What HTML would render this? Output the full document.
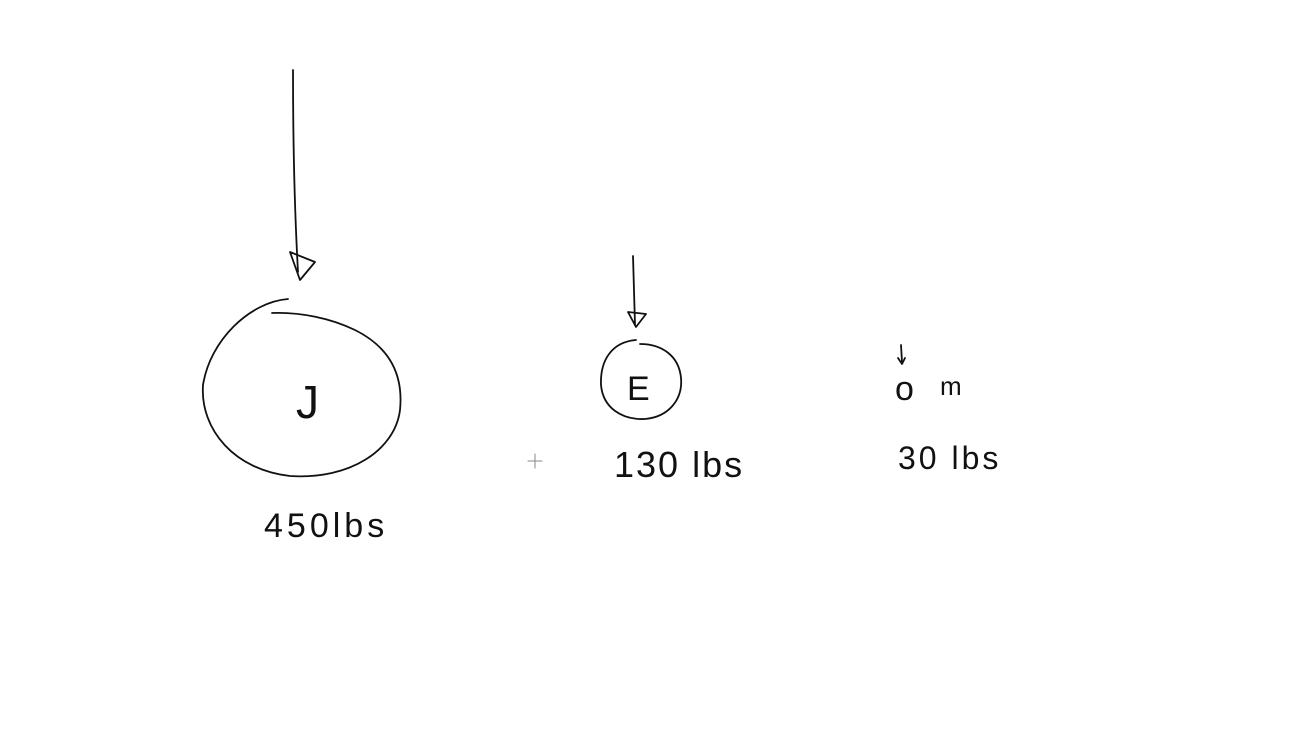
<!DOCTYPE html>
<html><head><meta charset="utf-8"><style>
html,body{margin:0;padding:0;background:#fff;width:1316px;height:740px;overflow:hidden}
svg{display:block}
text{font-family:"Liberation Sans",sans-serif;fill:#111;font-weight:normal}
</style></head><body>
<svg width="1316" height="740" viewBox="0 0 1316 740">
<g fill="none" stroke="#111" stroke-width="1.8" stroke-linecap="round" stroke-linejoin="round">
  <g>
    <path d="M293 70 C293 120 294 200 298 272"/>
    <path d="M290 252 L300 280 L315 262 Z"/>
  </g>
  <path d="M288 299 C250 302 210 340 203 385 C200 430 235 470 290 476 C350 480 395 450 400 410 C404 370 385 345 355 330 C330 318 300 312 272 313"/>
  <g>
    <path d="M633 256 L635 325"/>
    <path d="M628 312 L636 327 L646 314 Z"/>
  </g>
  <path d="M636 340 C612 342 600 360 601 385 C603 408 622 420 645 419 C668 417 683 400 681 378 C679 356 662 344 640 344"/>
  <g>
    <path d="M901 345 L902 362"/>
    <path d="M898 358 L902 364 L905 358"/>
  </g>
  <path stroke-width="1" stroke="#888" d="M528 461 L542 461 M535 454 L535 468"/>
</g>
<text x="296" y="418" font-size="46" font-weight="300">J</text>
<text x="627" y="400" font-size="34">E</text>
<text x="895" y="400" font-size="34">o</text>
<text x="940" y="395" font-size="26">m</text>
<text x="264" y="537" font-size="34" letter-spacing="4">450lbs</text>
<text x="614" y="477" font-size="36" letter-spacing="2">130 lbs</text>
<text x="898" y="469" font-size="32" letter-spacing="3">30 lbs</text>
</svg>
</body></html>
